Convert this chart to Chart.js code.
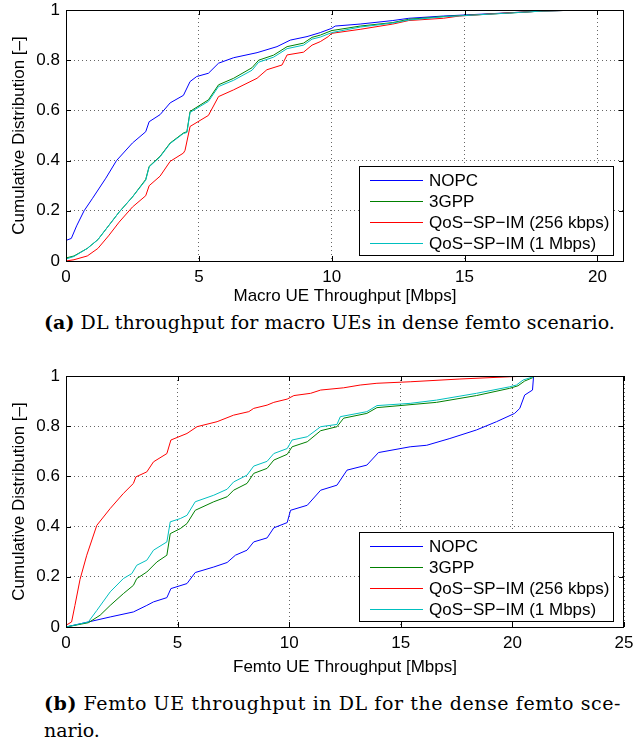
<!DOCTYPE html>
<html>
<head>
<meta charset="utf-8">
<script src="https://cdn.jsdelivr.net/npm/chart.js@4"></script>
<style>
body { margin: 0; background: #fff; width: 633px; height: 738px; position: relative; overflow: hidden; }
canvas { position: absolute; left: 0; }
.cap { position: absolute; left: 44px; font-family: "DejaVu Serif", serif; font-size: 19px; line-height: 22px; white-space: nowrap; color: #000; }
</style>
</head>
<body>
<canvas id="macro" width="633" height="308" style="top:0px"></canvas>
<div class="cap" id="capA" style="top:311px" data-w="571"><b>(a)</b> DL throughput for macro UEs in dense femto scenario.</div>
<canvas id="femto" width="633" height="318" style="top:362px"></canvas>
<div class="cap" id="capB1" style="top:692px" data-w="577"><b>(b)</b> Femto UE throughput in DL for the dense femto sce-</div>
<div class="cap" id="capB2" style="top:719px">nario.</div>
<script>
// CDF points [throughput Mbps, probability]
const macroNOPC = [[0,0],[0,0.082],[0.2,0.09],[0.4,0.14],[0.68,0.2],[1.0,0.25],[1.5,0.33],[1.9,0.4],[2.5,0.47],[3.0,0.515],[3.13,0.555],[3.54,0.583],[3.92,0.63],[4.42,0.66],[4.67,0.715],[4.92,0.735],[5.36,0.748],[5.74,0.788],[6.31,0.81],[7.19,0.83],[7.94,0.854],[8.44,0.88],[9.07,0.894],[9.57,0.91],[10.0,0.927],[10.13,0.936],[11.07,0.944],[12.3,0.958],[12.9,0.967],[14.2,0.976],[16.7,0.989],[17.96,0.996],[19.46,1.0]];
const macro3GPP = [[0,0],[0,0.012],[0.3,0.02],[0.8,0.05],[1.2,0.085],[1.6,0.14],[2.0,0.195],[2.5,0.255],[3.0,0.325],[3.13,0.377],[3.54,0.417],[3.92,0.47],[4.42,0.51],[4.55,0.515],[4.67,0.596],[5.36,0.642],[5.74,0.702],[6.31,0.728],[7.0,0.77],[7.25,0.8],[7.81,0.82],[8.32,0.854],[8.94,0.868],[9.26,0.891],[9.57,0.9],[10.0,0.918],[11.07,0.936],[12.3,0.95],[12.9,0.963],[14.2,0.974],[16.7,0.988],[17.96,0.996],[19.46,1.0]];
const macroQoS256 = [[0,0],[0.3,0.005],[0.8,0.02],[1.2,0.05],[1.6,0.1],[2.0,0.155],[2.5,0.215],[3.0,0.26],[3.13,0.3],[3.54,0.338],[3.92,0.397],[4.42,0.43],[4.48,0.441],[4.67,0.536],[5.36,0.58],[5.74,0.655],[6.31,0.682],[7.19,0.728],[7.56,0.762],[8.13,0.781],[8.32,0.821],[8.94,0.832],[9.26,0.86],[9.57,0.874],[9.87,0.894],[10.0,0.907],[11.07,0.923],[12.3,0.944],[12.9,0.958],[14.2,0.967],[14.8,0.976],[16.7,0.989],[17.96,0.996],[19.46,1.0]];
const macroQoS1M = [[0,0],[0,0.008],[0.3,0.018],[0.8,0.05],[1.2,0.085],[1.6,0.14],[2.0,0.195],[2.5,0.255],[3.0,0.322],[3.13,0.375],[3.54,0.415],[3.92,0.468],[4.42,0.508],[4.55,0.512],[4.67,0.592],[5.36,0.636],[5.74,0.695],[6.31,0.72],[7.0,0.76],[7.25,0.792],[7.81,0.812],[8.32,0.846],[8.94,0.86],[9.26,0.884],[9.57,0.892],[10.0,0.91],[11.07,0.932],[12.3,0.948],[12.9,0.96],[14.2,0.973],[16.7,0.988],[17.96,0.996],[19.46,1.0]];

const femtoNOPC = [[0,0],[1.0,0.02],[1.98,0.04],[3.02,0.06],[3.62,0.086],[3.92,0.1],[4.52,0.117],[4.7,0.153],[5.42,0.173],[5.79,0.217],[6.62,0.239],[7.22,0.257],[7.59,0.286],[8.11,0.306],[8.41,0.339],[9.01,0.355],[9.31,0.395],[9.91,0.416],[10.06,0.465],[10.81,0.485],[11.41,0.545],[12.14,0.565],[12.59,0.625],[13.48,0.645],[14.0,0.695],[15.42,0.718],[16.16,0.724],[17.2,0.751],[18.39,0.785],[19.29,0.818],[20.1,0.851],[20.33,0.871],[20.55,0.924],[20.9,0.944],[20.95,1.0]];
const femto3GPP = [[0,0],[1.0,0.017],[1.53,0.047],[1.98,0.086],[2.57,0.133],[3.02,0.166],[3.17,0.193],[3.62,0.219],[4.07,0.259],[4.52,0.286],[4.67,0.372],[5.12,0.392],[5.42,0.412],[5.79,0.465],[6.62,0.499],[7.22,0.519],[7.51,0.545],[8.11,0.572],[8.41,0.612],[9.01,0.632],[9.31,0.665],[9.91,0.688],[10.13,0.718],[10.81,0.738],[11.41,0.782],[12.14,0.798],[12.44,0.832],[13.48,0.851],[13.93,0.874],[16.6,0.895],[18.39,0.922],[19.88,0.951],[20.25,0.961],[20.55,0.98],[20.9,0.993],[21.0,1.0]];
const femtoQoS256 = [[0,0],[0,0.007],[0.25,0.02],[0.4,0.086],[0.63,0.19],[0.93,0.286],[1.38,0.405],[1.98,0.472],[2.57,0.532],[3.02,0.572],[3.13,0.598],[3.62,0.618],[3.92,0.658],[4.52,0.691],[4.7,0.745],[5.42,0.771],[5.87,0.798],[6.77,0.818],[7.51,0.844],[8.19,0.858],[8.41,0.871],[9.01,0.884],[9.31,0.895],[9.91,0.908],[10.21,0.922],[10.96,0.931],[11.41,0.944],[12.44,0.953],[13.18,0.964],[13.93,0.971],[15.42,0.977],[17.65,0.988],[19.88,0.997],[20.9,1.0]];
const femtoQoS1M = [[0,0],[1.0,0.02],[1.38,0.066],[1.98,0.14],[2.57,0.193],[2.95,0.213],[3.17,0.246],[3.62,0.266],[3.92,0.306],[4.52,0.339],[4.67,0.419],[5.12,0.432],[5.42,0.445],[5.79,0.499],[6.62,0.525],[7.22,0.549],[7.51,0.578],[8.11,0.605],[8.41,0.641],[9.01,0.66],[9.31,0.691],[9.91,0.711],[10.13,0.745],[10.81,0.758],[11.41,0.798],[12.14,0.807],[12.29,0.838],[13.48,0.858],[13.93,0.882],[15.42,0.891],[16.6,0.904],[18.39,0.931],[19.88,0.957],[20.18,0.964],[20.48,0.984],[20.9,0.996],[21.0,1.0]];

const seriesLabels = ['NOPC', '3GPP', 'QoS\u2212SP\u2212IM (256 kbps)', 'QoS\u2212SP\u2212IM (1 Mbps)'];
const seriesColors = ['#0000ff', '#008000', '#ff0000', '#00bfbf'];
const yTicks = [0, 0.2, 0.4, 0.6, 0.8, 1];
const macroXTicks = [0, 5, 10, 15, 20];
const femtoXTicks = [0, 5, 10, 15, 20, 25];

const FONT = '"Liberation Sans", Arial, sans-serif';

// axes box + small inward ticks, matlab style
const frame = {
    id: 'frame',
    afterDatasetsDraw(chart) {
        const a = chart.chartArea;
        const ctx = chart.ctx;
        const xs = chart.scales.x, ys = chart.scales.y;
        ctx.save();
        ctx.strokeStyle = '#000';
        ctx.lineWidth = 1;
        ctx.strokeRect(Math.round(a.left) + 0.5, Math.round(a.top) + 0.5, Math.round(a.right - a.left) - 1, Math.round(a.bottom - a.top));
        ctx.beginPath();
        xs.ticks.forEach(t => {
            const px = Math.round(xs.getPixelForValue(t.value)) + 0.5;
            ctx.moveTo(px, a.bottom); ctx.lineTo(px, a.bottom - 5);
            ctx.moveTo(px, a.top); ctx.lineTo(px, a.top + 5);
        });
        ys.ticks.forEach(t => {
            const py = Math.round(ys.getPixelForValue(t.value)) + 0.5;
            ctx.moveTo(a.left, py); ctx.lineTo(a.left + 5, py);
            ctx.moveTo(a.right, py); ctx.lineTo(a.right - 5, py);
        });
        ctx.stroke();
        ctx.restore();
    }
};

const boxLegend = {
    id: 'boxLegend',
    afterDraw(chart) {
        const a = chart.chartArea;
        const ctx = chart.ctx;
        const w = 254, h = 89;
        const x0 = Math.round(a.right - 11 - w), y0 = Math.round(a.bottom - 6 - h);
        ctx.save();
        ctx.fillStyle = '#fff';
        ctx.fillRect(x0, y0, w, h);
        ctx.strokeStyle = '#000';
        ctx.lineWidth = 1;
        ctx.strokeRect(x0 + 0.5, y0 + 0.5, w, h);
        ctx.font = '17px ' + FONT;
        ctx.textBaseline = 'middle';
        chart.data.datasets.forEach((ds, i) => {
            const y = Math.round(y0 + 14 + i * 21) + 0.5;
            ctx.strokeStyle = ds.borderColor;
            ctx.beginPath();
            ctx.moveTo(x0 + 11, y);
            ctx.lineTo(x0 + 64, y);
            ctx.stroke();
            ctx.fillStyle = '#000';
            ctx.fillText(ds.label, x0 + 70, y + 1);
        });
        ctx.restore();
    }
};

function makeChart(id, series, xMax, xTicks, xTitle, padTop, xHeight, titlePad)
{
    const datasets = series.map((pts, i) => ({
        label: seriesLabels[i],
        data: pts.map(p => ({x: p[0], y: p[1]})),
        borderColor: seriesColors[i],
        borderWidth: 1,
        pointRadius: 0,
        tension: 0,
        fill: false,
        order: 4 - i
    }));
    return new Chart(document.getElementById(id), {
        type: 'line',
        data: {datasets: datasets},
        options: {
            responsive: false,
            animation: false,
            devicePixelRatio: 1,
            layout: {padding: {left: 0, right: 9, top: padTop, bottom: 0}},
            plugins: {legend: {display: false}, tooltip: {enabled: false}},
            scales: {
                x: {
                    type: 'linear',
                    min: 0,
                    max: xMax,
                    afterBuildTicks: s => { s.ticks = xTicks.map(v => ({value: v})); },
                    afterFit: s => { s.height = xHeight; s.paddingLeft = 0; s.paddingRight = 0; },
                    ticks: {font: {family: FONT, size: 17}, color: '#000', padding: 6, maxRotation: 0, callback: v => String(v)},
                    grid: {color: 'rgba(0,0,0,0.6)', drawTicks: false},
                    border: {display: false, dash: [1, 3]},
                    title: {display: true, text: xTitle, color: '#000', font: {family: FONT, size: 17}, padding: {top: 0, bottom: titlePad}}
                },
                y: {
                    type: 'linear',
                    min: 0,
                    max: 1,
                    afterBuildTicks: s => { s.ticks = yTicks.map(v => ({value: v})); },
                    afterFit: s => { s.width = 66; s.paddingTop = 0; s.paddingBottom = 0; },
                    ticks: {font: {family: FONT, size: 17}, color: '#000', padding: 6, callback: v => String(v)},
                    grid: {color: 'rgba(0,0,0,0.6)', drawTicks: false},
                    border: {display: false, dash: [1, 3]},
                    title: {display: true, text: 'Cumulative Distribution [\u2013]', color: '#000', font: {family: FONT, size: 17}, padding: {top: 9, bottom: 0}}
                }
            }
        },
        plugins: [frame, boxLegend]
    });
}

const macroChart = makeChart('macro', [macroNOPC, macro3GPP, macroQoS256, macroQoS1M], 21, macroXTicks, 'Macro UE Throughput [Mbps]', 10, 47, 1);
const femtoChart = makeChart('femto', [femtoNOPC, femto3GPP, femtoQoS256, femtoQoS1M], 25, femtoXTicks, 'Femto UE Throughput [Mbps]', 14, 53, 2);

// stretch caption lines to the width they have in the paper
document.querySelectorAll('.cap[data-w]').forEach(el => {
    const target = Number(el.dataset.w);
    const n = el.textContent.length;
    const w = el.getBoundingClientRect().width;
    el.style.letterSpacing = ((target - w) / n) + 'px';
});
</script>
</body>
</html>
